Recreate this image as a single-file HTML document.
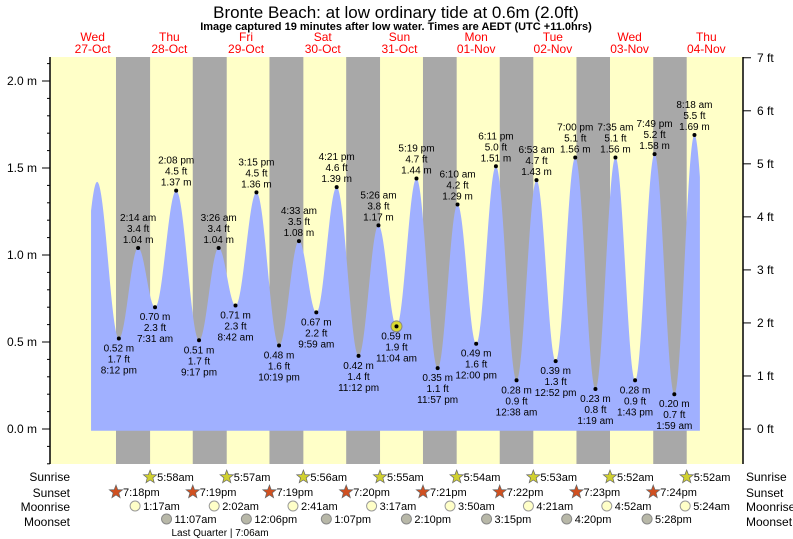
<!DOCTYPE html>
<html><head><meta charset="utf-8"><style>
body{margin:0;background:#fff;}
svg{display:block;font-family:"Liberation Sans",sans-serif;}
</style></head><body>
<svg id="c" width="793" height="539" viewBox="0 0 793 539">
<text x="396" y="18" font-size="17" text-anchor="middle" fill="#000">Bronte Beach: at low  ordinary tide at 0.6m (2.0ft)</text>
<text x="396" y="30" font-size="11" font-weight="bold" text-anchor="middle" fill="#000">Image captured 19 minutes after low water. Times are AEDT (UTC +11.0hrs)</text>
<g id="bands"></g><g id="area"></g><g id="axes"></g><g id="labels"></g><g id="astro"></g>
</svg>
<script>
// Data
const dayNames = ["Wed","Thu","Fri","Sat","Sun","Mon","Tue","Wed","Thu"];
const dayDates = ["27-Oct","28-Oct","29-Oct","30-Oct","31-Oct","01-Nov","02-Nov","03-Nov","04-Nov"];
// tide extremes: hours since midnight 27-Oct
const extTimes = [7.0,13.4,20.2,26.23,31.52,38.13,45.28,51.43,56.7,63.25,70.32,76.55,81.98,88.35,95.2,101.43,107.07,113.32,119.95,126.17,132,138.18,144.63,150.88,156.87,163,169.32,175.58,181.72,187.82,194,200.3,206.5];
const extHeights = [0.6,1.42,0.52,1.04,0.70,1.37,0.51,1.04,0.71,1.36,0.48,1.08,0.67,1.39,0.42,1.17,0.59,1.44,0.35,1.29,0.49,1.51,0.28,1.43,0.39,1.56,0.23,1.56,0.28,1.58,0.20,1.69,0.3];
const extFeet = ["","","1.7","3.4","2.3","4.5","1.7","3.4","2.3","4.5","1.6","3.5","2.2","4.6","1.4","3.8","1.9","4.7","1.1","4.2","1.6","5.0","0.9","4.7","1.3","5.1","0.8","5.1","0.9","5.2","0.7","5.5",""];
const extLabels = ["","","8:12 pm","2:14 am","7:31 am","2:08 pm","9:17 pm","3:26 am","8:42 am","3:15 pm","10:19 pm","4:33 am","9:59 am","4:21 pm","11:12 pm","5:26 am","11:04 am","5:19 pm","11:57 pm","6:10 am","12:00 pm","6:11 pm","12:38 am","6:53 am","12:52 pm","7:00 pm","1:19 am","7:35 am","1:43 pm","7:49 pm","1:59 am","8:18 am",""];
const tStart = 11.5, tEnd = 202;
const sunriseT = [29.97,53.95,77.93,101.92,125.9,149.88,173.87,197.87];
const sunriseL = ["5:58am","5:57am","5:56am","5:55am","5:54am","5:53am","5:52am","5:52am"];
const sunsetT = [19.3,43.32,67.32,91.33,115.35,139.37,163.38,187.4];
const sunsetL = ["7:18pm","7:19pm","7:19pm","7:20pm","7:21pm","7:22pm","7:23pm","7:24pm"];
const moonriseT = [25.28,50.03,74.68,99.28,123.83,148.35,172.87,197.4];
const moonriseL = ["1:17am","2:02am","2:41am","3:17am","3:50am","4:21am","4:52am","5:24am"];
const moonsetT = [35.12,60.1,85.12,110.17,135.25,160.33,185.47];
const moonsetL = ["11:07am","12:06pm","1:07pm","2:10pm","3:15pm","4:20pm","5:28pm"];
const mTicks = [0,0.5,1.0,1.5,2.0];
const ftTicks = [0,1,2,3,4,5,6,7];

const NS="http://www.w3.org/2000/svg";
const X0=50,X1=743,Y0=57,Y1=464;
const x = t => 54.3 + t*3.196;
const y = m => 429 - m*174;
function el(tag, attrs, parent, txt){const e=document.createElementNS(NS,tag);for(const k in attrs)e.setAttribute(k,attrs[k]);if(txt!==undefined)e.textContent=txt;parent.appendChild(e);return e;}
const bands=document.getElementById('bands'),area=document.getElementById('area'),axes=document.getElementById('axes'),labels=document.getElementById('labels'),astro=document.getElementById('astro'),svg=document.getElementById('c');

const bg=el('rect',{x:X0,y:Y0,width:X1-X0,height:Y1-Y0,fill:'#ffffc8'},bands);


for(let i=0;i<sunsetT.length;i++){
  const a=x(sunsetT[i]), b=i<sunriseT.length?x(sunriseT[i]):X1;
  const r=el('rect',{x:a,y:Y0,width:b-a,height:Y1-Y0,fill:'#a8a8a8'},bands);
  
  
}
// day headers
for(let d=0;d<dayNames.length;d++){
  const cx=x(d*24+12);
  const t1=el('text',{x:cx,y:41,'font-size':12,'text-anchor':'middle',fill:'#f00'},svg,dayNames[d]);
  
  
  const t2=el('text',{x:cx,y:53,'font-size':12,'text-anchor':'middle',fill:'#f00'},svg,dayDates[d]);
  
  
}
// tide curve
function h(t){
  for(let i=0;i<extTimes.length-1;i++){
    if(t>=extTimes[i]&&t<=extTimes[i+1]){
      const f=(t-extTimes[i])/(extTimes[i+1]-extTimes[i]);
      return extHeights[i]+(extHeights[i+1]-extHeights[i])*(1-Math.cos(Math.PI*f))/2;
    }
  }
  return 0;
}
let d=`M${x(tStart)},${y(-0.01)}`;
for(let t=tStart;t<=tEnd;t+=0.1)d+=` L${x(t).toFixed(2)},${y(h(t)).toFixed(2)}`;
d+=` L${x(tEnd)},${y(-0.01)} Z`;
const p=el('path',{d:d,fill:'#a0b0ff'},area);


// extremes labels
for(let i=2;i<extTimes.length-1;i++){
  const cx=x(extTimes[i]), cy=y(extHeights[i]);
  const hi=extHeights[i]>extHeights[i-1];
  if(i===16){const c=el('circle',{cx:cx,cy:cy,r:5.5,fill:'#d8d830',stroke:'#888','stroke-width':1},labels);
    
    }
  const dot=el('circle',{cx:cx,cy:cy,r:2,fill:'#000'},labels);
  
  
  const lines=hi?[extLabels[i],extFeet[i]+' ft',extHeights[i].toFixed(2)+' m']:[extHeights[i].toFixed(2)+' m',extFeet[i]+' ft',extLabels[i]];
  const base=hi?cy-27:cy+13;
  lines.forEach((s,k)=>{
    const tt=el('text',{x:cx,y:base+k*11,'font-size':10,'text-anchor':'middle',fill:'#000'},labels,s);
    
    
  });
}
// axes
el('line',{x1:X0,y1:Y0,x2:X0,y2:Y1,stroke:'#000','stroke-width':1.5},axes);
el('line',{x1:X1,y1:Y0,x2:X1,y2:Y1,stroke:'#000','stroke-width':1.5},axes);
for(let m=-0.2;m<=2.15;m+=0.1){const yy=y(m);if(yy<Y0||yy>Y1)continue;el('line',{x1:X0-3,y1:yy,x2:X0,y2:yy,stroke:'#000'},axes);}
mTicks.forEach(m=>{
  el('line',{x1:X0-8,y1:y(m),x2:X0,y2:y(m),stroke:'#000'},axes);
  const t=el('text',{x:X0-13,y:y(m)+4,'font-size':12,'text-anchor':'end'},axes,m.toFixed(1)+' m');
  
  
});
ftTicks.forEach(f=>{
  const yy=y(f*0.3048);
  el('line',{x1:X1,y1:yy,x2:X1+8,y2:yy,stroke:'#000'},axes);
  const t=el('text',{x:X1+14,y:yy+4,'font-size':12},axes,f+' ft');
  
  
});
// astro rows
const rows=[["Sunrise",477],["Sunset",493],["Moonrise",507],["Moonset",522]];
rows.forEach(r=>{
  const a=el('text',{x:70,y:r[1]+4,'font-size':12,'text-anchor':'end'},astro,r[0]);
  
  
  const b=el('text',{x:746,y:r[1]+4,'font-size':12},astro,r[0]);
  
  
});
function star(cx,cy,fill){let s='';for(let k=0;k<10;k++){const R=k%2?3:7,a=-Math.PI/2+k*Math.PI/5;s+=(cx+R*Math.cos(a)).toFixed(1)+','+(cy+R*Math.sin(a)).toFixed(1)+' ';}
  return el('polygon',{points:s,fill:fill,stroke:'#666','stroke-width':0.7},astro);}
sunriseT.forEach((t,i)=>{const s=star(x(t),477,'#d0d030');
  const l=el('text',{x:x(t)+7,y:481,'font-size':11},astro,sunriseL[i]);});
sunsetT.forEach((t,i)=>{const s=star(x(t),492,'#d05020');
  const l=el('text',{x:x(t)+7,y:496,'font-size':11},astro,sunsetL[i]);});
moonriseT.forEach((t,i)=>{const c=el('circle',{cx:x(t),cy:506,r:5,fill:'#ffffc8',stroke:'#999'},astro);
  const l=el('text',{x:x(t)+8,y:510,'font-size':11},astro,moonriseL[i]);});
moonsetT.forEach((t,i)=>{const c=el('circle',{cx:x(t),cy:519,r:5,fill:'#b8b8a8',stroke:'#888'},astro);
  const l=el('text',{x:x(t)+8,y:523,'font-size':11},astro,moonsetL[i]);});
const lq=el('text',{x:220,y:536,'font-size':10,'text-anchor':'middle'},astro,"Last Quarter | 7:06am");


</script>
</body></html>
